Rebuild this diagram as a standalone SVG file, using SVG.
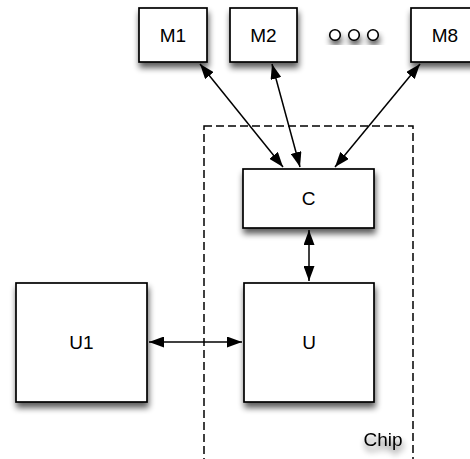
<svg xmlns="http://www.w3.org/2000/svg" width="470" height="459" viewBox="0 0 470 459">
<defs>
<filter id="sh" x="-30%" y="-30%" width="160%" height="170%">
<feGaussianBlur in="SourceAlpha" stdDeviation="3"/>
<feOffset dx="1" dy="5" result="b"/>
<feComponentTransfer><feFuncA type="linear" slope="0.65"/></feComponentTransfer>
<feMerge><feMergeNode/><feMergeNode in="SourceGraphic"/></feMerge>
</filter>
<marker id="ah" viewBox="0 0 15 11" refX="15" refY="5.5" markerWidth="15" markerHeight="11" markerUnits="userSpaceOnUse" orient="auto-start-reverse">
<path d="M0,0 L15,5.5 L0,11 Z" fill="#000"/>
</marker>
<style>
.box{fill:#fff;stroke:#000;stroke-width:1.7}
.lbl{font-family:"Liberation Sans",Arial,sans-serif;font-size:19px;fill:#000;text-anchor:middle}
.con{stroke:#000;stroke-width:1.5;fill:none;marker-start:url(#ah);marker-end:url(#ah)}
.chip{fill:none;stroke:#000;stroke-width:1.5;stroke-dasharray:8 4}
</style>
</defs>
<rect width="470" height="459" fill="#fff"/>
<g id="chip">
<rect class="chip" x="204" y="126" width="209" height="345"/>
<text class="lbl" x="383" y="446" filter="url(#sh)">Chip</text>
</g>
<g id="M1"><rect class="box" x="139" y="8" width="68" height="54" filter="url(#sh)"/><text class="lbl" x="173" y="41.5">M1</text></g>
<g id="M2"><rect class="box" x="230" y="8" width="67" height="54" filter="url(#sh)"/><text class="lbl" x="263.5" y="41.5">M2</text></g>
<g id="dots" filter="url(#sh)">
<circle cx="335" cy="35" r="5.3" fill="#fff" stroke="#000" stroke-width="1.6"/>
<circle cx="354" cy="35" r="5.3" fill="#fff" stroke="#000" stroke-width="1.6"/>
<circle cx="373" cy="35" r="5.3" fill="#fff" stroke="#000" stroke-width="1.6"/>
</g>
<g id="M8"><rect class="box" x="411" y="8" width="68" height="54" filter="url(#sh)"/><text class="lbl" x="445" y="41.5">M8</text></g>
<g id="C"><rect class="box" x="243" y="169" width="131" height="59" filter="url(#sh)"/><text class="lbl" x="308.5" y="205">C</text></g>
<g id="U"><rect class="box" x="244" y="283" width="130" height="119" filter="url(#sh)"/><text class="lbl" x="309" y="349">U</text></g>
<g id="U1"><rect class="box" x="16" y="283" width="131" height="119" filter="url(#sh)"/><text class="lbl" x="81.5" y="349">U1</text></g>
<g id="connectors">
<line class="con" x1="200" y1="64" x2="283" y2="167"/>
<line class="con" x1="272" y1="64" x2="300" y2="167"/>
<line class="con" x1="420" y1="64" x2="335" y2="167"/>
<line class="con" x1="309" y1="230" x2="309" y2="281"/>
<line class="con" x1="149" y1="342" x2="242" y2="342"/>
</g>
</svg>
